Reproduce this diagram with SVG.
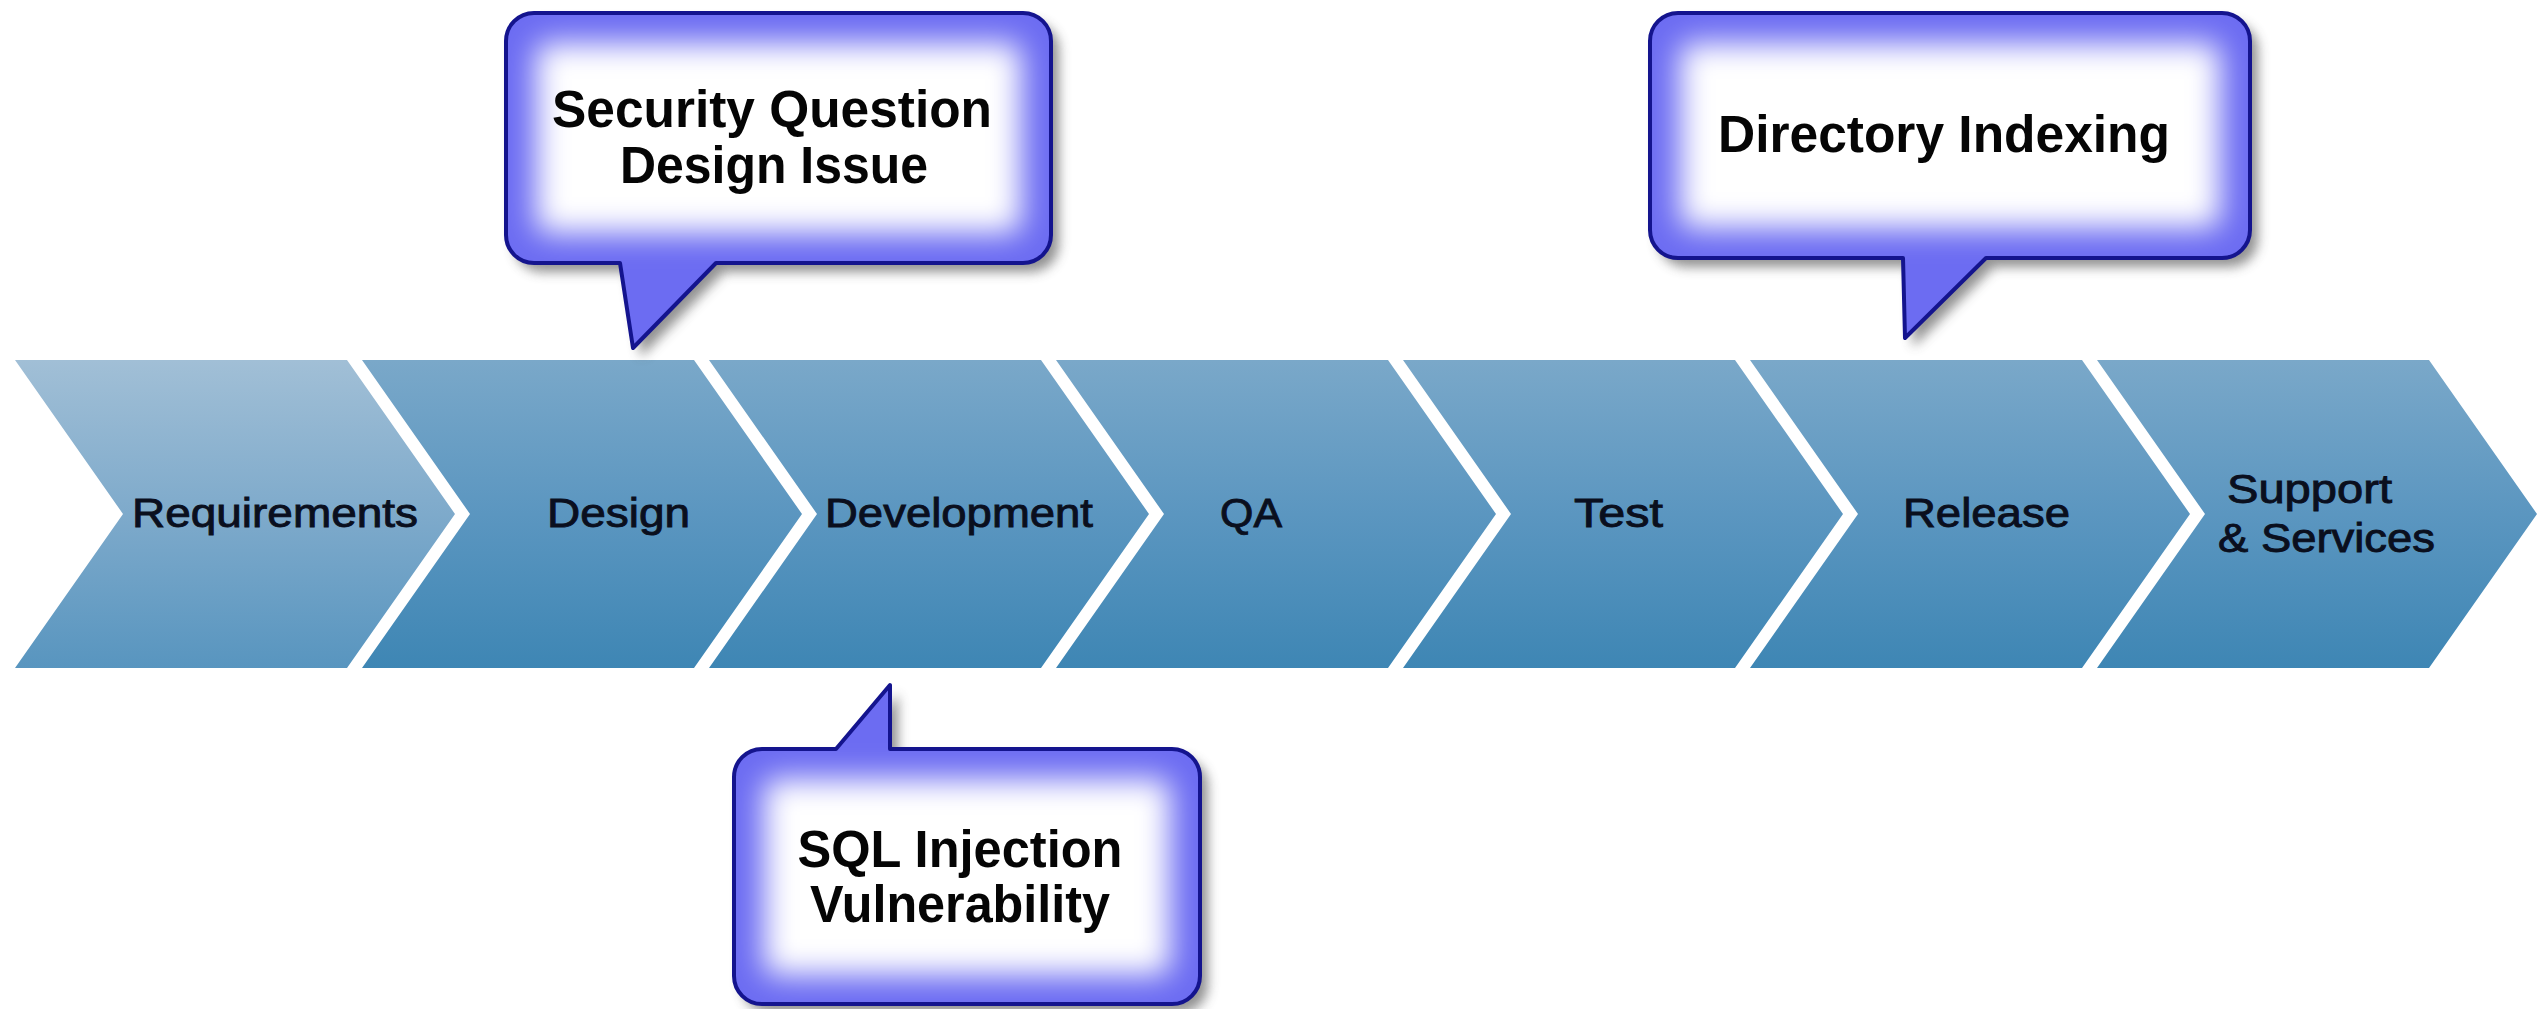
<svg xmlns="http://www.w3.org/2000/svg" width="2544" height="1009" viewBox="0 0 2544 1009">
<style>
.lbl{font-family:"Liberation Sans",Arial,Helvetica,sans-serif;font-size:40px;fill:#0a0f1e;stroke:#0a0f1e;stroke-width:0.9}
.co{font-family:"Liberation Sans",Arial,Helvetica,sans-serif;font-size:51px;font-weight:bold;fill:#050505;text-anchor:middle}
.chev{fill:url(#gChev)}
.edge{fill:#6c6cf2}
.glow{fill:#ffffff;filter:url(#fGlow)}
.outl{fill:none;stroke:#14148e;stroke-width:4;stroke-linejoin:round}
.shadow{fill:#4a4a4a;opacity:0.6;filter:url(#fShadow)}
</style>
<defs>
<linearGradient id="gChev" x1="0" y1="0" x2="0" y2="1">
<stop offset="0" stop-color="#7aa8c9"/>
<stop offset="0.5" stop-color="#5b96c0"/>
<stop offset="1" stop-color="#3e86b4"/>
</linearGradient>
<linearGradient id="gChev0" x1="0" y1="0" x2="0" y2="1">
<stop offset="0" stop-color="#a1bfd6"/>
<stop offset="0.5" stop-color="#7eaacb"/>
<stop offset="1" stop-color="#5895bf"/>
</linearGradient>
<filter id="fGlow" x="-20%" y="-20%" width="140%" height="140%"><feGaussianBlur stdDeviation="15"/></filter>
<filter id="fShadow" x="-20%" y="-20%" width="140%" height="140%"><feGaussianBlur stdDeviation="6"/></filter>
<path id="p1" d="M534,13 H1023 A28,28 0 0 1 1051,41 V235 A28,28 0 0 1 1023,263 H716 L633,348 L620,263 H534 A28,28 0 0 1 506,235 V41 A28,28 0 0 1 534,13 Z"/>
<path id="p2" d="M762,749 H836 L890,685 V749 H1172 A28,28 0 0 1 1200,777 V976 A28,28 0 0 1 1172,1004 H762 A28,28 0 0 1 734,976 V777 A28,28 0 0 1 762,749 Z"/>
<path id="p3" d="M1678,13 H2222 A28,28 0 0 1 2250,41 V230 A28,28 0 0 1 2222,258 H1986 L1905,338 L1903,258 H1678 A28,28 0 0 1 1650,230 V41 A28,28 0 0 1 1678,13 Z"/>
<clipPath id="c1"><use href="#p1"/></clipPath>
<clipPath id="c2"><use href="#p2"/></clipPath>
<clipPath id="c3"><use href="#p3"/></clipPath>
</defs>
<rect width="2544" height="1009" fill="#ffffff"/>

<g id="requirements">
<path d="M15,360 L347,360 L455,514 L347,668 L15,668 L123,514 Z" fill="url(#gChev0)"/>
<text class="lbl" x="132" y="527" textLength="286" lengthAdjust="spacingAndGlyphs">Requirements</text>
</g>
<g id="design">
<path class="chev" d="M362,360 L694,360 L802,514 L694,668 L362,668 L470,514 Z"/>
<text class="lbl" x="547" y="527" textLength="143" lengthAdjust="spacingAndGlyphs">Design</text>
</g>
<g id="development">
<path class="chev" d="M709,360 L1041,360 L1149,514 L1041,668 L709,668 L817,514 Z"/>
<text class="lbl" x="825" y="527" textLength="268" lengthAdjust="spacingAndGlyphs">Development</text>
</g>
<g id="qa">
<path class="chev" d="M1056,360 L1388,360 L1496,514 L1388,668 L1056,668 L1164,514 Z"/>
<text class="lbl" x="1220" y="527" textLength="62" lengthAdjust="spacingAndGlyphs">QA</text>
</g>
<g id="test">
<path class="chev" d="M1403,360 L1735,360 L1843,514 L1735,668 L1403,668 L1511,514 Z"/>
<text class="lbl" x="1574" y="527" textLength="89" lengthAdjust="spacingAndGlyphs">Test</text>
</g>
<g id="release">
<path class="chev" d="M1750,360 L2082,360 L2190,514 L2082,668 L1750,668 L1858,514 Z"/>
<text class="lbl" x="1903" y="527" textLength="167" lengthAdjust="spacingAndGlyphs">Release</text>
</g>
<g id="support">
<path class="chev" d="M2097,360 L2429,360 L2537,514 L2429,668 L2097,668 L2205,514 Z"/>
<text class="lbl" x="2227" y="503" textLength="165" lengthAdjust="spacingAndGlyphs">Support</text>
<text class="lbl" x="2218" y="552" textLength="217" lengthAdjust="spacingAndGlyphs">&amp; Services</text>
</g>

<g id="callout-security">
<use href="#p1" class="shadow" transform="translate(8,9)"/>
<g clip-path="url(#c1)">
<use href="#p1" class="edge"/>
<rect class="glow" x="536" y="43" width="485" height="190" rx="12"/>
</g>
<use href="#p1" class="outl"/>
<text class="co" x="772" y="127" textLength="440" lengthAdjust="spacingAndGlyphs">Security Question</text>
<text class="co" x="774" y="183" textLength="308" lengthAdjust="spacingAndGlyphs">Design Issue</text>
</g>

<g id="callout-sql">
<use href="#p2" class="shadow" transform="translate(8,9)"/>
<g clip-path="url(#c2)">
<use href="#p2" class="edge"/>
<rect class="glow" x="764" y="779" width="406" height="196" rx="12"/>
</g>
<use href="#p2" class="outl"/>
<text class="co" x="960" y="867" textLength="325" lengthAdjust="spacingAndGlyphs">SQL Injection</text>
<text class="co" x="960" y="922" textLength="300" lengthAdjust="spacingAndGlyphs">Vulnerability</text>
</g>

<g id="callout-directory">
<use href="#p3" class="shadow" transform="translate(8,9)"/>
<g clip-path="url(#c3)">
<use href="#p3" class="edge"/>
<rect class="glow" x="1680" y="43" width="540" height="185" rx="12"/>
</g>
<use href="#p3" class="outl"/>
<text class="co" x="1944" y="152" textLength="452" lengthAdjust="spacingAndGlyphs">Directory Indexing</text>
</g>

<g id="connectors"/>
</svg>
